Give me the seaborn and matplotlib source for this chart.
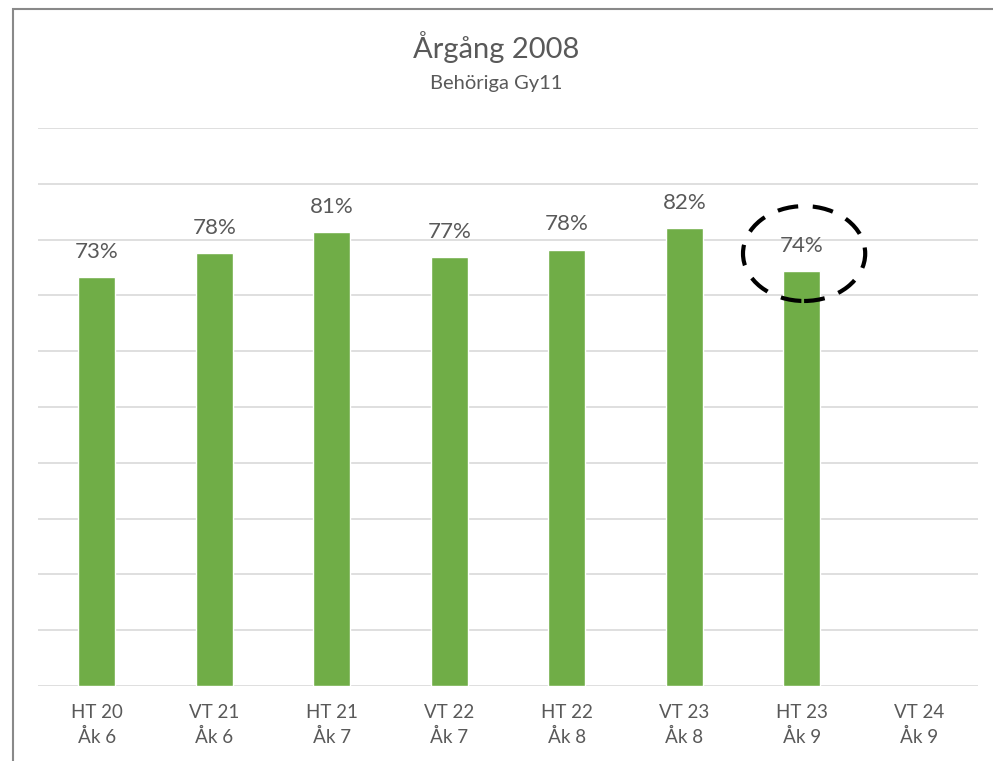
import pandas as pd
import matplotlib
matplotlib.use('Agg')
import matplotlib.pyplot as plt
import seaborn as sns
from matplotlib.patches import Ellipse, Rectangle

terms = ['HT 20', 'VT 21', 'HT 21', 'VT 22', 'HT 22', 'VT 23', 'HT 23', 'VT 24']
grades = ['Åk 6', 'Åk 6', 'Åk 7', 'Åk 7', 'Åk 8', 'Åk 8', 'Åk 9', 'Åk 9']
share = [73.3, 77.6, 81.4, 76.9, 78.2, 82.1, 74.3, None]

df = pd.DataFrame({'label': [f'{t}\n{g}' for t, g in zip(terms, grades)], 'share': share})

sns.set_theme(style='white')
plt.rcParams['font.family'] = ['Lato', 'DejaVu Sans']
text_col = '#595959'

fig = plt.figure(figsize=(9.93, 7.61), dpi=100)
ax = fig.add_axes([38 / 993, 75 / 761, 940 / 993, 558 / 761])

sns.barplot(data=df, x='label', y='share', color='#70AD47', saturation=1, width=0.315, ax=ax, zorder=3)

ax.set_ylim(0, 100)
ax.set_xlim(-0.5, len(terms) - 0.5)
ax.set_yticks(range(0, 101, 10))
ax.yaxis.grid(True, color='#D9D9D9', linewidth=1.2, zorder=0)
ax.set_yticklabels([])
ax.tick_params(axis='y', length=0)
ax.tick_params(axis='x', length=0, labelsize=13.5, labelcolor=text_col, pad=13)
for t in ax.get_xticklabels():
    t.set_linespacing(1.45)
for s in ax.spines.values():
    s.set_visible(False)
ax.set_xlabel('')
ax.set_ylabel('')

for i, v in enumerate(share):
    if v is None:
        continue
    ax.annotate(f'{round(v)}%', (i, v), xytext=(0, 11), textcoords='offset points',
                ha='center', va='bottom', fontsize=16, color=text_col)

# ring around the latest value
ax.add_patch(Ellipse((6.02, 77.5), 1.04, 17.0, fill=False, edgecolor='black',
                     linewidth=3.0, linestyle=(0, (5, 3.5)), zorder=5, clip_on=False))

fig.text(0.5, 1 - 47 / 761, 'Årgång 2008', ha='center', va='center', fontsize=21, color=text_col)
fig.text(0.5, 1 - 84 / 761, 'Behöriga Gy11', ha='center', va='center', fontsize=14.5, color=text_col)

# chart frame (left and top edges visible)
fig.add_artist(Rectangle((13 / 993, -0.1), 1.1, 1 - 9 / 761 + 0.1, transform=fig.transFigure,
                         fill=False, edgecolor='#898989', linewidth=1.5))

fig.savefig('out.png', dpi=100)
